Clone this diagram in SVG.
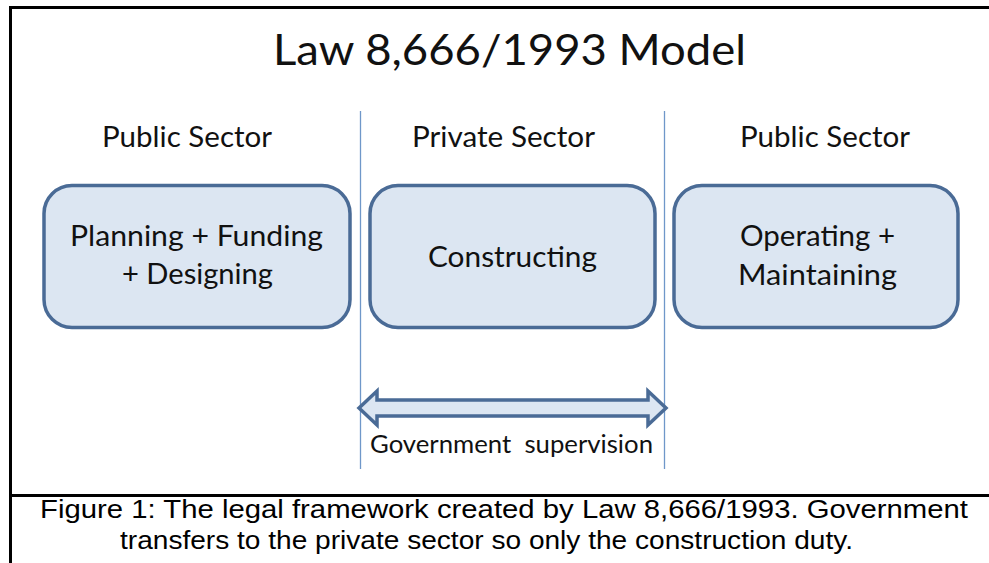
<svg xmlns="http://www.w3.org/2000/svg" width="989" height="563" viewBox="0 0 989 563">
<style>
.frame{fill:none;stroke:#000;stroke-width:3}
.sep{stroke:#6f97c9;stroke-width:1.3}
.box{fill:#dce6f2;stroke:#4a6b96;stroke-width:3.5}
.t{font-family:Lato,"Open Sans","Liberation Sans",sans-serif;fill:#111;text-anchor:middle}
.cap{font-family:"Liberation Sans",Arial,sans-serif;fill:#000;text-anchor:middle;font-size:26.5px}
</style>
<rect width="989" height="563" fill="#fff"/>
<g id="frame">
<path class="frame" d="M989 7.5H10.5V563M10.5 495.5H989"/>
</g>
<text class="t" x="509.5" y="65" font-size="42" textLength="473" lengthAdjust="spacingAndGlyphs">Law 8,666/1993 Model</text>
<text class="t" x="187" y="147" font-size="28" textLength="170" lengthAdjust="spacingAndGlyphs">Public Sector</text>
<text class="t" x="503.5" y="147" font-size="28" textLength="183" lengthAdjust="spacingAndGlyphs">Private Sector</text>
<text class="t" x="825" y="147" font-size="28" textLength="170" lengthAdjust="spacingAndGlyphs">Public Sector</text>
<g id="connectors">
<line class="sep" x1="360.5" y1="111" x2="360.5" y2="469"/>
<line class="sep" x1="664.5" y1="111" x2="664.5" y2="469"/>
<path d="M359 408L377 391V400H648V391L666 408L648 425V416H377V425Z" fill="#dce6f2" stroke="#4a6b96" stroke-width="3.5" stroke-linejoin="miter"/>
<text class="t" x="511.5" y="453" font-size="24.5" textLength="283" lengthAdjust="spacingAndGlyphs" xml:space="preserve">Government  supervision</text>
</g>
<g id="node1">
<rect class="box" x="44" y="185.5" width="306" height="142" rx="28"/>
<text class="t" x="196.5" y="246" font-size="28" textLength="253" lengthAdjust="spacingAndGlyphs">Planning + Funding</text>
<text class="t" x="197.5" y="284" font-size="28" textLength="151" lengthAdjust="spacingAndGlyphs">+ Designing</text>
</g>
<g id="node2">
<rect class="box" x="370" y="185.5" width="285" height="142" rx="28"/>
<text class="t" x="512.5" y="267" font-size="28" textLength="169" lengthAdjust="spacingAndGlyphs">Constructing</text>
</g>
<g id="node3">
<rect class="box" x="674" y="185.5" width="284" height="142" rx="28"/>
<text class="t" x="817.5" y="246" font-size="28" textLength="155" lengthAdjust="spacingAndGlyphs">Operating +</text>
<text class="t" x="817.5" y="285" font-size="28" textLength="159" lengthAdjust="spacingAndGlyphs">Maintaining</text>
</g>
<g id="caption">
<text class="cap" x="504" y="518" textLength="928" lengthAdjust="spacingAndGlyphs">Figure 1: The legal framework created by Law 8,666/1993. Government</text>
<text class="cap" x="486.5" y="549" textLength="733" lengthAdjust="spacingAndGlyphs">transfers to the private sector so only the construction duty.</text>
</g>
</svg>
